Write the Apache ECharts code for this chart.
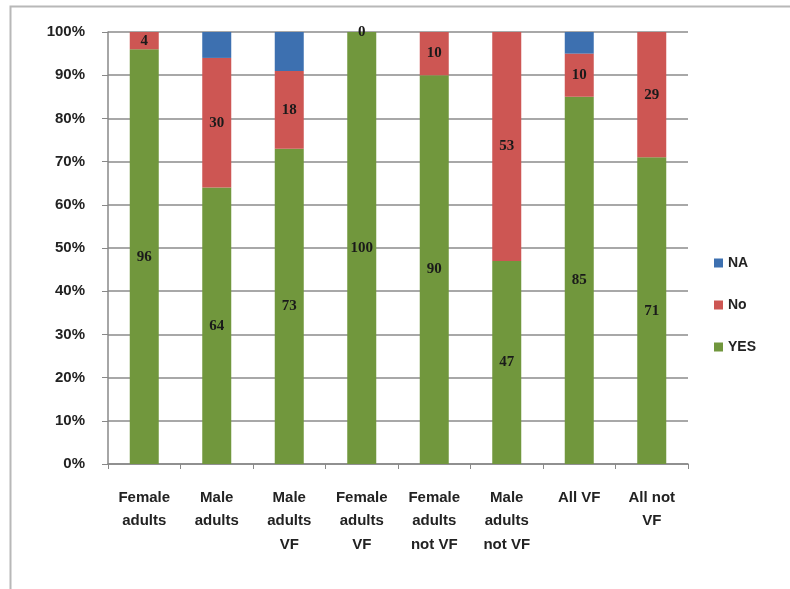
<!DOCTYPE html>
<html><head><meta charset="utf-8">
<script src="https://cdn.jsdelivr.net/npm/echarts@6/dist/echarts.min.js"></script>
<style>html,body{margin:0;padding:0;background:#fff}#c{width:790px;height:589px}</style>
</head><body><div id="c"></div>
<script>
var categories = ["Female\nadults", "Male\nadults", "Male\nadults\nVF", "Female\nadults\nVF", "Female\nadults\nnot VF", "Male\nadults\nnot VF", "All VF", "All not\nVF"];
var yesValues = [96, 64, 73, 100, 90, 47, 85, 71];
var noValues = [4, 30, 18, 0, 10, 53, 10, 29];
var naValues = [0, 6, 9, 0, 0, 0, 5, 0];
var yTicks = [0, 10, 20, 30, 40, 50, 60, 70, 80, 90, 100];

var chart = echarts.init(document.getElementById('c'));
var font = 'Liberation Sans';
var lbl = {show: true, position: 'inside', color: '#1a1a1a', fontFamily: 'Liberation Serif', fontWeight: 'bold', fontSize: 15};
chart.setOption({
  animation: false,
  graphic: [{type: 'rect', shape: {x: 10.5, y: 6.5, width: 900, height: 700}, style: {fill: 'none', stroke: '#b8b8b8', lineWidth: 2}, silent: true}],
  legend: {
    orient: 'vertical', left: 709, top: 251, itemWidth: 9, itemHeight: 9, itemGap: 28, icon: 'rect',
    data: ['NA', 'No', 'YES'],
    textStyle: {fontFamily: font, fontWeight: 'bold', fontSize: 14, color: '#222'}
  },
  grid: {left: 108, right: 102, top: 32, bottom: 125, containLabel: false},
  xAxis: {
    type: 'category', data: categories,
    axisLine: {lineStyle: {color: '#888', width: 1.5}},
    axisTick: {show: true, alignWithLabel: false, length: 5, lineStyle: {color: '#888'}},
    axisLabel: {interval: 0, margin: 22, lineHeight: 23.5, fontFamily: font, fontWeight: 'bold', fontSize: 15, color: '#222'}
  },
  yAxis: {
    type: 'value', min: 0, max: 100, interval: 10,
    axisLine: {show: true, lineStyle: {color: '#888', width: 1.5}},
    axisTick: {show: true, length: 6, lineStyle: {color: '#888'}},
    splitLine: {lineStyle: {color: '#a8a8a8', width: 2}},
    axisLabel: {margin: 23, fontFamily: font, fontWeight: 'bold', fontSize: 15, color: '#222',
      formatter: function (v) { return yTicks.indexOf(v) >= 0 ? v + '%' : ''; }}
  },
  series: [
    {name: 'YES', type: 'bar', stack: 's', data: yesValues, barWidth: '40%', itemStyle: {color: '#71973D'}, label: lbl},
    {name: 'No', type: 'bar', stack: 's', data: noValues, itemStyle: {color: '#CD5653'}, label: lbl},
    {name: 'NA', type: 'bar', stack: 's', data: naValues, itemStyle: {color: '#3D70B0'}, label: {show: false}}
  ]
});
</script></body></html>
